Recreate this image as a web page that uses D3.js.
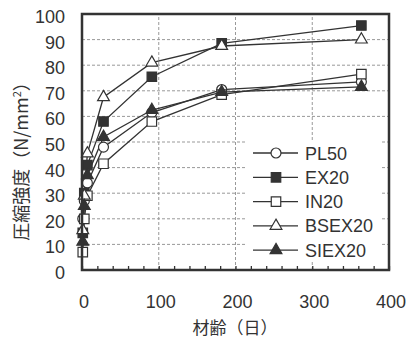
<!DOCTYPE html>
<html>
<head>
<meta charset="utf-8">
<script src="https://cdn.jsdelivr.net/npm/d3@7"></script>
<style>
  body { margin: 0; background: #fff; }
  text { font-family: "Liberation Sans", Arial, sans-serif; fill: #333; }
  .jp { font-family: "Noto Sans CJK JP", sans-serif; }
</style>
</head>
<body>
<svg id="chart" width="410" height="338"></svg>
<script>
// data
let ages = [1, 3, 7, 28, 91, 182, 364];
let seriesNames = ["PL50", "EX20", "IN20", "BSEX20", "SIEX20"];
let pl50 = [20, 27, 34, 48, 61.5, 70.5, 73.5];
let ex20 = [14.5, 30, 41, 58, 75.5, 88.5, 95.5];
let in20 = [7, 20, 29, 41.5, 58, 68.5, 76.5];
let bsex20 = [15.5, 29, 45.5, 67.5, 81, 87.5, 90];
let siex20 = [11, 25, 37, 52, 62.5, 69.5, 71.5];
let xTicks = [0, 100, 200, 300, 400];
let yTicks = [0, 10, 20, 30, 40, 50, 60, 70, 80, 90, 100];

let svg = d3.select("#chart");
let ink = "#333";

let x = d3.scaleLinear().domain([0, 400]).range([82, 389]);
let y = d3.scaleLinear().domain([0, 100]).range([270, 14]);

//? marker style per series
let styles = [
    { symbol: d3.symbolCircle, size: 78, fill: "#fff" },
    { symbol: d3.symbolSquare, size: 90, fill: ink },
    { symbol: d3.symbolSquare, size: 90, fill: "#fff" },
    { symbol: d3.symbolTriangle, size: 60, fill: "#fff" },
    { symbol: d3.symbolTriangle, size: 60, fill: ink }
];
let values = [pl50, ex20, in20, bsex20, siex20];
let series = seriesNames.map(function (name, i) {
    return { name: name, style: styles[i], points: ages.map(function (a, j) { return [a, values[i][j]]; }) };
});

//? grid
let grid = svg.append("g").attr("stroke", "#999").attr("stroke-width", 1).attr("stroke-dasharray", "3,2");
grid.selectAll("line.h")
    .data(yTicks.filter(function (d) { return d > 0 && d < 100; }))
    .enter().append("line")
    .attr("x1", x(0)).attr("x2", x(400))
    .attr("y1", function (d) { return y(d); })
    .attr("y2", function (d) { return y(d); });
grid.selectAll("line.v")
    .data([100, 200, 300])
    .enter().append("line")
    .attr("y1", y(0)).attr("y2", y(100))
    .attr("x1", function (d) { return x(d); })
    .attr("x2", function (d) { return x(d); });

//? minor ticks along the bottom, pointing inward
svg.append("g")
    .attr("transform", "translate(0," + y(0) + ")")
    .call(d3.axisTop(x).ticks(20).tickSize(4).tickFormat(""))
    .call(function (g) { g.select(".domain").remove(); })
    .selectAll("line").attr("stroke", ink).attr("stroke-width", 1.3);

//? series lines
let line = d3.line()
    .x(function (d) { return x(d[0]); })
    .y(function (d) { return y(d[1]); });
svg.append("g").selectAll("path")
    .data(series)
    .enter().append("path")
    .attr("d", function (d) { return line(d.points); })
    .attr("fill", "none")
    .attr("stroke", ink)
    .attr("stroke-width", 1.3);

//? markers
series.forEach(function (s) {
    svg.append("g").selectAll("path")
        .data(s.points)
        .enter().append("path")
        .attr("transform", function (d) { return "translate(" + x(d[0]) + "," + y(d[1]) + ")"; })
        .attr("d", d3.symbol().type(s.style.symbol).size(s.style.size))
        .attr("fill", s.style.fill)
        .attr("stroke", ink)
        .attr("stroke-width", 1.2);
});

//? frame
svg.append("rect")
    .attr("x", x(0)).attr("y", y(100))
    .attr("width", x(400) - x(0)).attr("height", y(0) - y(100))
    .attr("fill", "none").attr("stroke", ink).attr("stroke-width", 2.5);

//? tick labels
svg.append("g").selectAll("text")
    .data(yTicks)
    .enter().append("text")
    .attr("x", 65)
    .attr("y", function (d) { return y(d) + 9; })
    .attr("text-anchor", "end")
    .attr("font-size", 18)
    .text(function (d) { return d; });
svg.append("g").selectAll("text")
    .data(xTicks)
    .enter().append("text")
    .attr("x", function (d) { return x(d) + 2; })
    .attr("y", 308)
    .attr("text-anchor", "middle")
    .attr("font-size", 18)
    .text(function (d) { return d; });

//? axis titles
svg.append("text")
    .attr("class", "jp")
    .attr("x", 235).attr("y", 334)
    .attr("text-anchor", "middle")
    .attr("font-size", 17)
    .text("材齢（日）");
let yt = svg.append("text")
    .attr("class", "jp")
    .attr("transform", "translate(28,157) rotate(-90)")
    .attr("text-anchor", "middle")
    .attr("font-size", 18);
yt.append("tspan").text("圧縮強度（N/mm");
yt.append("tspan").attr("font-size", 11).attr("dy", -7).text("2");
yt.append("tspan").attr("dy", 7).text("）");

//? legend
let legend = svg.append("g");
legend.append("rect")
    .attr("x", 245).attr("y", 140).attr("width", 137).attr("height", 122)
    .attr("fill", "#fff");
let item = legend.selectAll("g.item")
    .data(series)
    .enter().append("g")
    .attr("transform", function (d, i) { return "translate(0," + (153 + i * 24.3) + ")"; });
item.append("line")
    .attr("x1", 253).attr("x2", 298)
    .attr("stroke", ink).attr("stroke-width", 1.3);
item.append("path")
    .attr("transform", "translate(276,0)")
    .attr("d", function (d) { return d3.symbol().type(d.style.symbol).size(d.style.size)(); })
    .attr("fill", function (d) { return d.style.fill; })
    .attr("stroke", ink).attr("stroke-width", 1.2);
item.append("text")
    .attr("x", 305).attr("y", 6.5)
    .attr("font-size", 18)
    .text(function (d) { return d.name; });
</script>
</body>
</html>
